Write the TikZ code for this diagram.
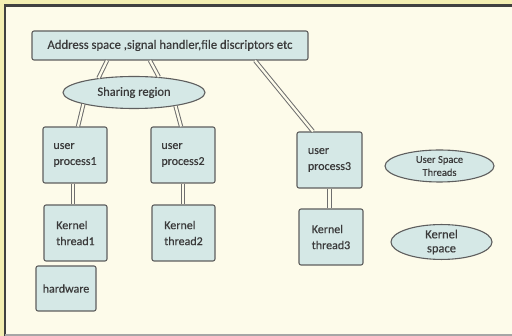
\documentclass[tikz,border=0pt]{standalone}
\usepackage{fontspec}
\setmainfont{Carlito}[FakeBold=0.4]
\usepackage{xcolor}
\usetikzlibrary{shapes.geometric}

\definecolor{outerbg}{HTML}{F3EEB2}
\definecolor{panel}{HTML}{FDFBEA}
\definecolor{boxfill}{HTML}{D5E8E6}
\definecolor{boxline}{HTML}{5E5E5E}
\definecolor{txt}{HTML}{3A3A3A}

\begin{document}
\begin{tikzpicture}[x=1pt,y=-1pt,
		box/.style={draw=boxline, fill=boxfill, line width=1.1pt, rounded corners=2pt, align=left, inner sep=0pt, text=txt, font=\fontsize{12}{16}\selectfont},
		oval/.style={ellipse, draw=boxline, fill=boxfill, line width=1.1pt, inner sep=0pt, align=center, text=txt, font=\fontsize{12.5}{14}\selectfont},
		link/.style={draw=boxline!90, line width=1pt, double=panel, double distance=2.3pt}]
		
		\useasboundingbox (0,0) rectangle (512,336);
		\fill[outerbg] (0,0) rectangle (512,336);
		\fill[panel] (5,6) rectangle (512,334);
		\draw[black!75, line width=2.2pt] (5,336) -- (5,5.5) -- (512,5.5);
		\draw[black!35, line width=1.5pt] (5,335) -- (512,335);
		
		\node[box, minimum width=276, minimum height=29, align=center, font=\fontsize{12.7}{15}\selectfont] (addr) at (170,45.5) {Address space ,signal handler,file discriptors etc};
		\node[oval, minimum width=142, minimum height=32] (share) at (134,92.5) {Sharing region};
		
		\node[box, minimum width=64, minimum height=56] (up1) at (75,155) {user\\process1};
		\node[box, minimum width=63, minimum height=56] (kt1) at (75.5,233) {Kernel\\thread1};
		\node[box, minimum width=60, minimum height=45] (hw) at (66,288.5) {hardware};
		
		\node[box, minimum width=64, minimum height=56] (up2) at (183,155) {user\\process2};
		\node[box, minimum width=63, minimum height=56] (kt2) at (183.5,233) {Kernel\\thread2};
		
		\node[box, minimum width=65, minimum height=56] (up3) at (329.5,160) {user\\process3};
		\node[box, minimum width=64, minimum height=56] (kt3) at (331,237) {Kernel\\thread3};
		
		\node[oval, minimum width=109, minimum height=32, font=\fontsize{10.5}{13}\selectfont] (ust) at (439.5,166) {User Space\\Threads};
		\node[oval, minimum width=101, minimum height=32] (ks) at (441.5,242) {Kernel\\space};
		
		\draw[link] ([xshift=-63pt]addr.south) -- (share.158);
		\draw[link] ([xshift=-20pt]addr.south) -- (share.32);
		\draw[link] ([xshift=85pt]addr.south) -- ([xshift=-16.5pt]up3.north);
		\draw[link] (share.193) -- ([xshift=3pt]up1.north);
		\draw[link] (share.342) -- ([xshift=-2pt]up2.north);
		
		\draw[link] ([xshift=-2pt]up1.south) -- ([xshift=-2pt]up1.south |- kt1.north);
		\draw[link] (up2.south) -- (up2.south |- kt2.north);
		\draw[link] (up3.south) -- (up3.south |- kt3.north);
	\end{tikzpicture}
\end{document}
